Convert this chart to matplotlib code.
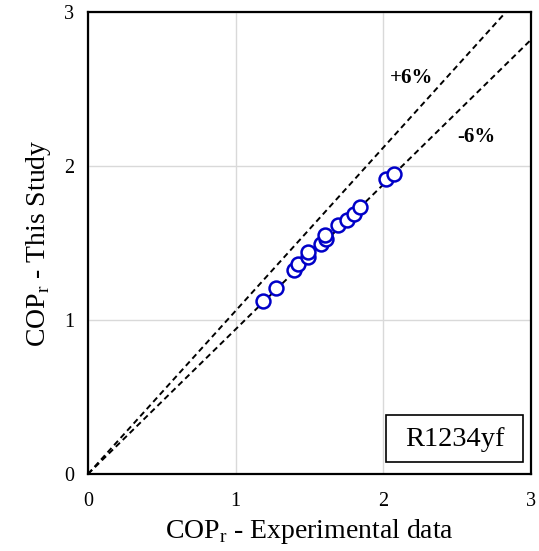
import matplotlib
matplotlib.use("Agg")
import matplotlib.pyplot as plt
from matplotlib.patches import Rectangle
import numpy as np

plt.rcParams['font.family'] = ['Liberation Serif', 'DejaVu Serif']
plt.rcParams['mathtext.fontset'] = 'custom'
plt.rcParams['mathtext.rm'] = 'Liberation Serif'

cop_exp = [1.188, 1.276, 1.398, 1.419, 1.493, 1.487, 1.575, 1.609, 1.602,
           1.690, 1.752, 1.799, 1.840, 2.016, 2.071]
cop_study = [1.123, 1.208, 1.325, 1.364, 1.409, 1.442, 1.494, 1.526, 1.552,
             1.617, 1.649, 1.688, 1.734, 1.916, 1.948]
upper_factor = 1.06
lower_factor = 0.94
ticks = [0, 1, 2, 3]

fig = plt.figure(figsize=(5.39, 5.51), dpi=100)
ax = fig.add_axes([88/539, 1-474/551, (531-88)/539, (474-12)/551])

xl = np.array([0, 3])
ax.plot(xl, upper_factor*xl, ls=(0, (3, 2)), color='black', lw=1.4, zorder=2)
ax.plot(xl, lower_factor*xl, ls=(0, (3, 2)), color='black', lw=1.4, zorder=2)

ax.plot(cop_exp, cop_study, 'o', ms=10, mfc='white', mec='#0000c8', mew=1.8,
        ls='none', zorder=3)

ax.set_xlim(0, 3)
ax.set_ylim(0, 3)
ax.set_xticks(ticks)
ax.set_yticks(ticks)
ax.grid(True, color='#d9d9d9', lw=1)
ax.set_axisbelow(True)
ax.tick_params(length=0, labelsize=14.5)
ax.tick_params(axis='x', pad=13)
ax.tick_params(axis='y', pad=10)
for s in ax.spines.values():
    s.set_linewidth(1.6)
    s.set_color('black')

ax.set_xlabel('COP$_\\mathrm{r}$ - Experimental data', fontsize=20)
ax.xaxis.set_label_coords(0.5, -0.094)
ax.set_ylabel('COP$_\\mathrm{r}$ - This Study', fontsize=20, labelpad=8)

ax.text(2.19, 2.57, '+6%', fontsize=15, fontweight='bold', ha='center', va='center')
ax.text(2.63, 2.19, '-6%', fontsize=15, fontweight='bold', ha='center', va='center')

ax.add_patch(Rectangle((2.02, 0.078), 0.926, 0.305, fc='white', ec='black',
                       lw=1.2, zorder=4))
ax.text(2.484, 0.225, 'R1234yf', fontsize=20.5, ha='center', va='center', zorder=5)

fig.savefig('out.png', dpi=100)
